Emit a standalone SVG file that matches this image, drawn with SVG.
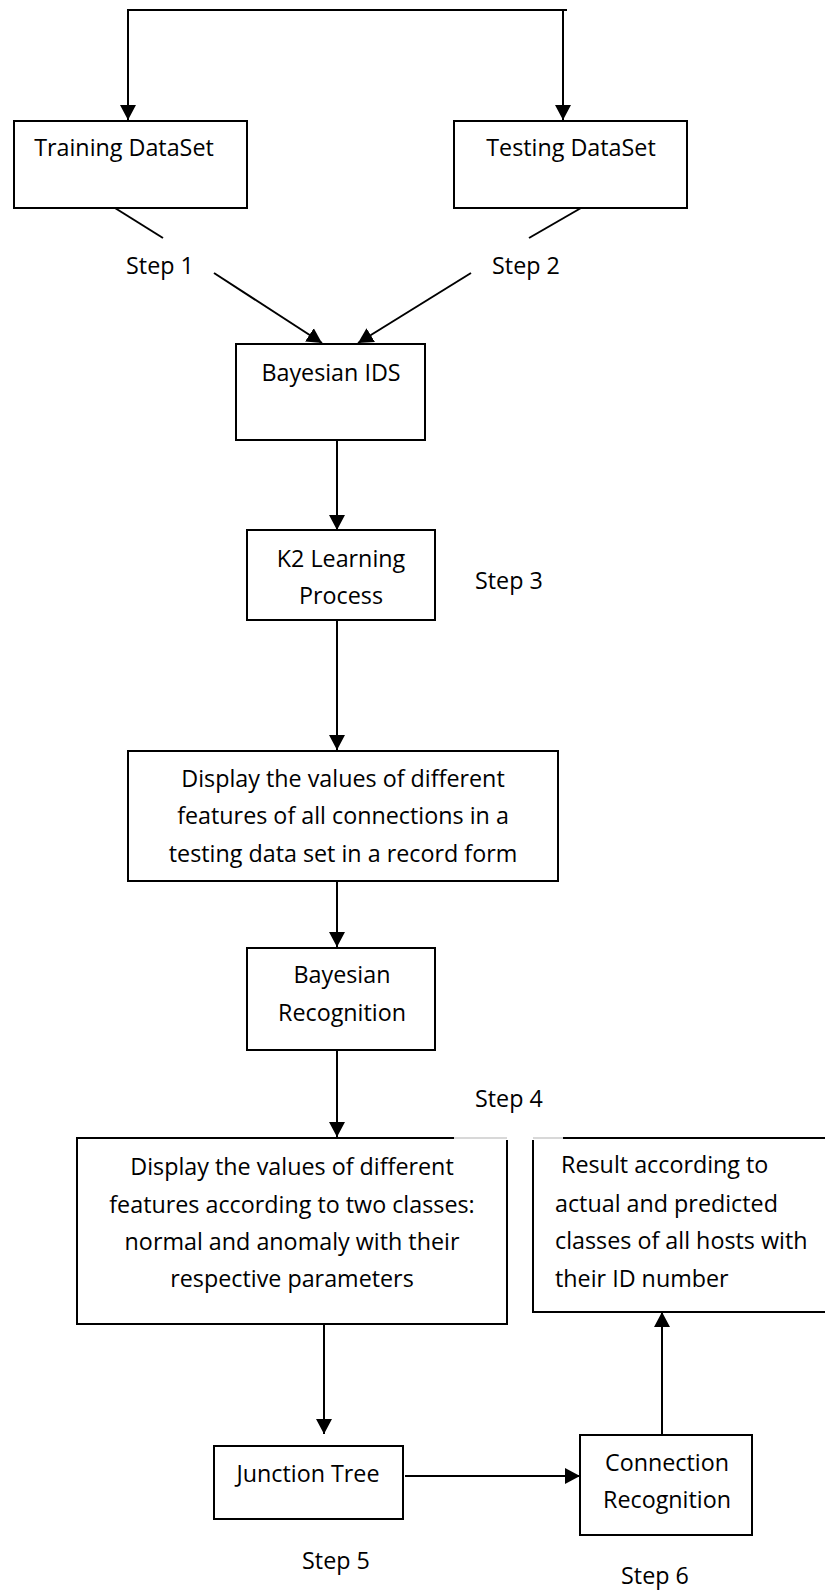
<svg xmlns="http://www.w3.org/2000/svg" width="825" height="1592" viewBox="0 0 825 1592">
<style>
.box{fill:#fff;stroke:#000;stroke-width:2}
.ln{fill:none;stroke:#000;stroke-width:2}
.arr{fill:none;stroke:#000;stroke-width:2;marker-end:url(#ah)}
.gray{fill:none;stroke:#d8d8d8;stroke-width:2}
text{font-family:"Open Sans","Liberation Sans",sans-serif;font-size:23.3px;fill:#000}
.c{text-anchor:middle}
</style>
<defs>
<marker id="ah" markerUnits="userSpaceOnUse" markerWidth="16" markerHeight="17" refX="15" refY="8.5" orient="auto">
<path d="M0,0.5 L15,8.5 L0,16.5 z" fill="#000"/>
</marker>
</defs>
<rect width="825" height="1592" fill="#fff"/>
<g id="connectors">
<polyline class="ln" points="128,119 128,10 567,10"/>
<line class="arr" x1="128" y1="10" x2="128" y2="120"/>
<line class="arr" x1="563" y1="10" x2="563" y2="120"/>
<line class="ln" x1="115" y1="208" x2="163" y2="238"/>
<line class="arr" x1="214" y1="273" x2="322" y2="343"/>
<line class="ln" x1="581" y1="208" x2="529" y2="238"/>
<line class="arr" x1="471" y1="273" x2="358" y2="343"/>
<line class="arr" x1="337" y1="440" x2="337" y2="530"/>
<line class="arr" x1="337" y1="620" x2="337" y2="750"/>
<line class="arr" x1="337" y1="881" x2="337" y2="947"/>
<line class="arr" x1="337" y1="1050" x2="337" y2="1137"/>
<line class="arr" x1="324" y1="1324" x2="324" y2="1434"/>
<line class="arr" x1="405" y1="1476" x2="580" y2="1476"/>
<line class="arr" x1="662" y1="1434" x2="662" y2="1312"/>
</g>
<g id="training">
<rect class="box" x="14" y="121" width="233" height="87"/>
<text class="c" x="124" y="156">Training DataSet</text>
</g>
<g id="testing">
<rect class="box" x="454" y="121" width="233" height="87"/>
<text class="c" x="571" y="156">Testing DataSet</text>
</g>
<g id="step1"><text class="c" x="160" y="274">Step 1</text></g>
<g id="step2"><text class="c" x="526" y="274">Step 2</text></g>
<g id="bayesian-ids">
<rect class="box" x="236" y="344" width="189" height="96"/>
<text class="c" x="331" y="381">Bayesian IDS</text>
</g>
<g id="k2">
<rect class="box" x="247" y="530" width="188" height="90"/>
<text class="c" x="341" y="567">K2 Learning</text>
<text class="c" x="341" y="604">Process</text>
</g>
<g id="step3"><text x="475" y="589">Step 3</text></g>
<g id="display1">
<rect class="box" x="128" y="751" width="430" height="130"/>
<text class="c" x="343" y="787">Display the values of different</text>
<text class="c" x="343" y="824">features of all connections in a</text>
<text class="c" x="343" y="862">testing data set in a record form</text>
</g>
<g id="bayes-rec">
<rect class="box" x="247" y="948" width="188" height="102"/>
<text class="c" x="342" y="983">Bayesian</text>
<text class="c" x="342" y="1021">Recognition</text>
</g>
<g id="step4"><text x="475" y="1107">Step 4</text></g>
<g id="display2">
<rect x="77" y="1138" width="430" height="186" fill="#fff" stroke="none"/>
<polyline class="ln" points="454,1138 77,1138 77,1324 507,1324 507,1140"/>
<line class="gray" x1="454" y1="1138" x2="507" y2="1138"/>
<text class="c" x="292" y="1175">Display the values of different</text>
<text class="c" x="292" y="1213">features according to two classes:</text>
<text class="c" x="292" y="1250">normal and anomaly with their</text>
<text class="c" x="292" y="1287">respective parameters</text>
</g>
<g id="result">
<polyline class="ln" points="533,1140 533,1312 826,1312"/>
<line class="ln" x1="563" y1="1138" x2="826" y2="1138"/>
<line class="gray" x1="533" y1="1138" x2="563" y2="1138"/>
<text x="555" y="1173" xml:space="preserve"> Result according to</text>
<text x="555" y="1212">actual and predicted</text>
<text x="555" y="1249">classes of all hosts with</text>
<text x="555" y="1287">their ID number</text>
</g>
<g id="junction">
<rect class="box" x="214" y="1446" width="189" height="73"/>
<text class="c" x="308" y="1482">Junction Tree</text>
</g>
<g id="step5"><text class="c" x="336" y="1569">Step 5</text></g>
<g id="conn-rec">
<rect class="box" x="580" y="1435" width="172" height="100"/>
<text class="c" x="667" y="1471">Connection</text>
<text class="c" x="667" y="1508">Recognition</text>
</g>
<g id="step6"><text class="c" x="655" y="1584">Step 6</text></g>
</svg>
